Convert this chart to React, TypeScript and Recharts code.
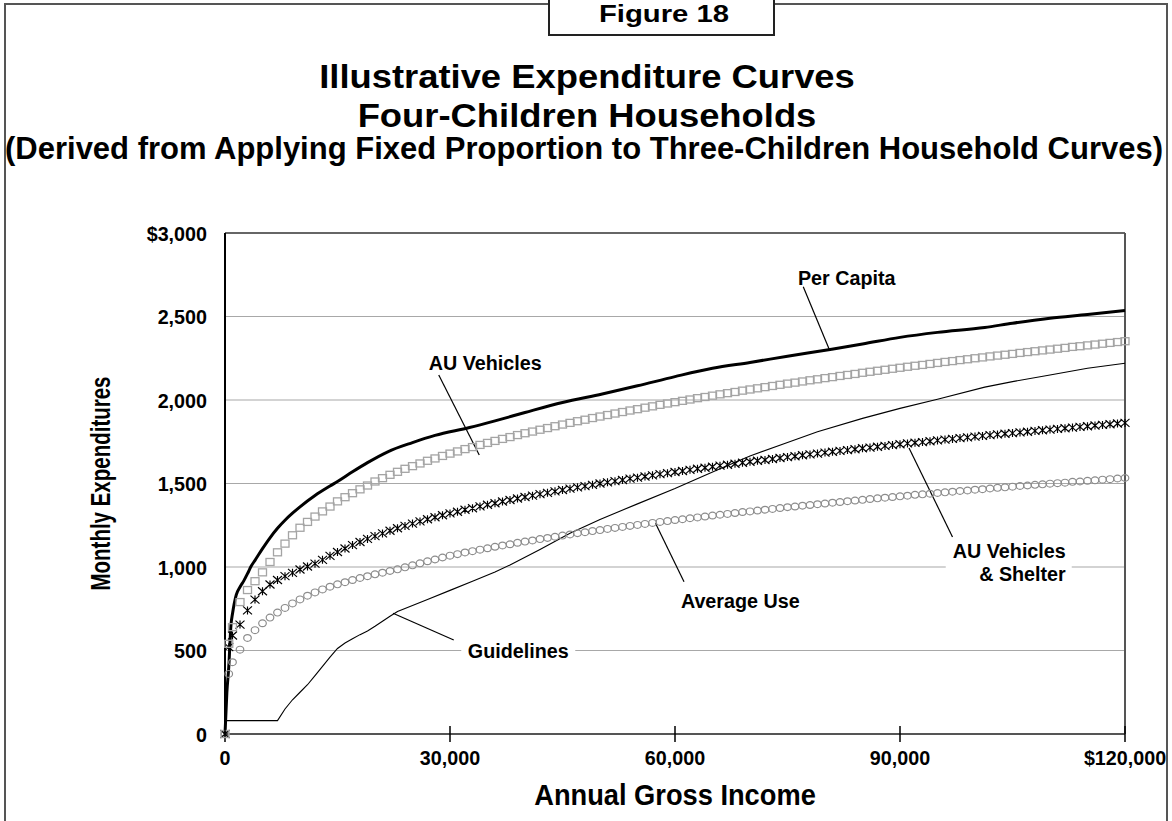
import React from "react";
import { CartesianGrid, Line, LineChart, ReferenceDot, ReferenceLine, XAxis, YAxis } from "recharts";

const FONT = '"Liberation Sans", Arial, Helvetica, sans-serif';
const NARROW = 0.94;

// annual gross income in $ thousands, shared by the three marker series
const markerIncome = [
  0, 0.5, 1, 2, 3, 4, 5, 6, 7, 8, 9, 10, 11, 12, 13, 14, 15, 16, 17, 18, 19, 20, 21, 22, 23, 24, 25, 26, 27, 28, 29, 30,
  31, 32, 33, 34, 35, 36, 37, 38, 39, 40, 41, 42, 43, 44, 45, 46, 47, 48, 49, 50,
  51, 52, 53, 54, 55, 56, 57, 58, 59, 60, 61, 62, 63, 64, 65, 66, 67, 68, 69, 70,
  71, 72, 73, 74, 75, 76, 77, 78, 79, 80, 81, 82, 83, 84, 85, 86, 87, 88, 89, 90,
  91, 92, 93, 94, 95, 96, 97, 98, 99, 100, 101, 102, 103, 104, 105, 106, 107, 108, 109, 110,
  111, 112, 113, 114, 115, 116, 117, 118, 119, 120,
];

const auVehicles = [
  0, 540, 640, 790, 862, 915, 968, 1030, 1088, 1140, 1190, 1235, 1270, 1302, 1333, 1362, 1393, 1418, 1442, 1465, 1488, 1512, 1532, 1552, 1570, 1588, 1604, 1620, 1636, 1650, 1665, 1679,
  1692, 1706, 1718, 1731, 1743, 1755, 1767, 1778, 1790, 1801,
  1811, 1822, 1832, 1843, 1853, 1863, 1873, 1882, 1892, 1901,
  1910, 1919, 1928, 1937, 1945, 1954, 1962, 1971, 1979, 1987,
  1995, 2003, 2011, 2018, 2026, 2034, 2041, 2048, 2056, 2063,
  2070, 2077, 2084, 2091, 2098, 2104, 2111, 2118, 2124, 2131,
  2137, 2144, 2150, 2156, 2163, 2169, 2175, 2181, 2187, 2193,
  2199, 2205, 2210, 2216, 2222, 2228, 2233, 2239, 2244, 2250,
  2255, 2261, 2266, 2271, 2276, 2282, 2287, 2292, 2297, 2302,
  2307, 2312, 2318, 2322, 2327, 2332, 2337, 2342, 2347, 2352,
];

const auVehiclesShelter = [
  0, 520, 590, 655, 740, 805, 855, 895, 922, 945, 965, 985, 1003, 1020, 1043, 1067, 1090, 1111, 1131, 1150, 1168, 1185, 1201, 1217, 1232, 1246, 1260, 1273, 1286, 1298, 1310, 1321,
  1331, 1343, 1352, 1363, 1373, 1382, 1392, 1401, 1410, 1419,
  1427, 1436, 1444, 1453, 1461, 1469, 1477, 1484, 1492, 1500,
  1507, 1514, 1521, 1529, 1535, 1542, 1549, 1556, 1562, 1569,
  1575, 1582, 1588, 1594, 1600, 1607, 1612, 1618, 1624, 1630,
  1636, 1641, 1647, 1653, 1658, 1663, 1669, 1674, 1679, 1685,
  1690, 1695, 1700, 1705, 1711, 1715, 1720, 1725, 1730, 1735,
  1740, 1744, 1748, 1753, 1758, 1763, 1767, 1772, 1776, 1781,
  1785, 1790, 1794, 1798, 1802, 1806, 1810, 1815, 1819, 1823,
  1827, 1831, 1835, 1839, 1843, 1847, 1851, 1855, 1859, 1863,
];

const averageUse = [
  0, 360, 430, 505, 575, 622, 663, 697, 727, 755, 782, 806, 828, 848, 866, 882, 896, 909, 922, 934, 945, 956, 966, 976, 986, 998, 1010, 1022, 1034, 1045, 1057, 1068,
  1077, 1087, 1095, 1104, 1112, 1121, 1129, 1136, 1145, 1152,
  1159, 1167, 1174, 1181, 1188, 1195, 1202, 1208, 1215, 1221,
  1228, 1234, 1240, 1246, 1252, 1258, 1264, 1270, 1275, 1281,
  1286, 1292, 1297, 1302, 1308, 1313, 1318, 1323, 1329, 1333,
  1338, 1343, 1348, 1353, 1358, 1362, 1367, 1371, 1376, 1380,
  1385, 1389, 1394, 1398, 1402, 1407, 1411, 1415, 1419, 1423,
  1427, 1432, 1435, 1439, 1443, 1447, 1451, 1455, 1458, 1463,
  1466, 1470, 1474, 1477, 1481, 1485, 1488, 1492, 1495, 1499,
  1502, 1505, 1510, 1512, 1516, 1519, 1523, 1526, 1530, 1533,
];

const perCapitaIncome = [0, 0.25, 0.5, 0.8, 1, 1.5, 2, 2.5, 3, 3.5, 4, 5, 6, 7, 8, 9, 10, 12, 14, 15, 17, 19, 21.7, 25, 28, 32.6, 36, 40, 45, 50.3, 55, 60, 65, 70, 75, 80.9, 85, 90, 95, 101.3, 105, 110, 115, 120];
const perCapita = [0, 250, 400, 655, 720, 833, 880, 917, 960, 1006, 1040, 1110, 1175, 1232, 1280, 1322, 1360, 1428, 1485, 1512, 1570, 1625, 1690, 1745, 1788, 1835, 1875, 1925, 1985, 2036, 2085, 2140, 2190, 2225, 2262, 2304, 2335, 2375, 2405, 2434, 2460, 2490, 2512, 2536];

const guidelinesIncome = [0, 7, 8, 9, 10, 11, 12, 13, 14, 15, 16, 17, 18, 19, 20, 21, 22, 23, 24, 25, 27, 30, 33, 36, 38, 42, 46, 50, 55, 60, 66, 70, 75, 79, 85, 90, 95, 101.3, 105, 110, 115, 120];
const guidelines = [80, 80, 150, 205, 250, 295, 350, 405, 460, 512, 545, 570, 595, 617, 645, 675, 705, 733, 752, 770, 805, 860, 915, 970, 1012, 1105, 1202, 1285, 1378, 1470, 1589, 1665, 1745, 1810, 1890, 1950, 2005, 2077, 2110, 2150, 2190, 2220];

const yTicks = [0, 500, 1000, 1500, 2000, 2500, 3000];
const xTicks = [0, 30, 60, 90, 120];

const toPoints = (xs: number[], ys: number[]) => xs.map((x, i) => ({ x, y: ys[i] }));

const fmtY = (v: number) => (v === 3000 ? "$3,000" : v.toLocaleString("en-US"));
const fmtX = (v: number) => (v === 120 ? "$120,000" : (v * 1000).toLocaleString("en-US"));

function NarrowText({ x, y, size, anchor = "middle", sx = NARROW, children }: any) {
  return (
    <g transform={`translate(${x},${y})`}>
      <text transform={`scale(${sx},1)`} textAnchor={anchor} fontSize={size} fontWeight={700} fontFamily={FONT} fill="#000">
        {children}
      </text>
    </g>
  );
}

function YTick({ x, y, payload }: any) {
  return (
    <NarrowText x={x} y={y + 7.5} size={21} anchor="end">
      {fmtY(payload.value)}
    </NarrowText>
  );
}

function XTick({ x, y, payload }: any) {
  const axisY = y - 15;
  return (
    <g>
      <line x1={x} x2={x} y1={axisY - 8} y2={axisY} stroke="#000" strokeWidth={1.5} />
      <NarrowText x={x} y={y + 16} size={21}>
        {fmtX(payload.value)}
      </NarrowText>
    </g>
  );
}

function SquareDot({ cx, cy, index }: any) {
  return <rect key={`sq-${index}`} x={cx - 4} y={cy - 3.5} width={8} height={7} fill="none" stroke="#a4a4a4" strokeWidth={1.3} />;
}

function CircleDot({ cx, cy, index }: any) {
  return <ellipse key={`ci-${index}`} cx={cx} cy={cy} rx={3.8} ry={3.4} fill="none" stroke="#8c8c8c" strokeWidth={1.2} />;
}

function StarDot({ cx, cy, index }: any) {
  const sx = 4.5;
  const sy = 4;
  return (
    <path
      key={`st-${index}`}
      d={`M${cx - sx},${cy - sy}L${cx + sx},${cy + sy}M${cx - sx},${cy + sy}L${cx + sx},${cy - sy}M${cx},${cy - sy}L${cx},${cy + sy}`}
      stroke="#000"
      strokeWidth={1.15}
      fill="none"
    />
  );
}

// text note placed at a data point; offsets in px, optional white box to break gridlines
function Note({ viewBox, lines, anchor = "middle", box }: any) {
  const cx = viewBox.x + viewBox.width / 2;
  const cy = viewBox.y + viewBox.height / 2;
  return (
    <g>
      {box && <rect x={cx + box[0]} y={cy + box[1]} width={box[2]} height={box[3]} fill="#fff" />}
      {lines.map((l: any, i: number) => (
        <NarrowText key={i} x={cx + (l.dx || 0)} y={cy + l.dy} size={21} anchor={anchor}>
          {l.text}
        </NarrowText>
      ))}
    </g>
  );
}

const hidden = { r: 1, fill: "none", stroke: "none" };

export default function App() {
  return (
    <div style={{ position: "absolute", left: 0, top: 0, width: 1172, height: 821, background: "#fff", fontFamily: FONT }}>
      <LineChart width={1172} height={821} margin={{ top: 233, right: 47, bottom: 47, left: 165 }}>
        <CartesianGrid vertical={false} stroke="#a8a8a8" strokeWidth={1.2} />
        <XAxis
          dataKey="x"
          type="number"
          domain={[0, 120]}
          ticks={xTicks}
          height={40}
          axisLine={{ stroke: "#555", strokeWidth: 2 }}
          tickLine={{ stroke: "#000", strokeWidth: 1.5 }}
          tickSize={8}
          tickMargin={7}
          tick={<XTick />}
          interval={0}
        />
        <YAxis
          type="number"
          domain={[0, 3000]}
          ticks={yTicks}
          width={60}
          axisLine={{ stroke: "#000", strokeWidth: 2 }}
          tickLine={false}
          tickSize={0}
          tickMargin={18}
          tick={<YTick />}
          interval={0}
        />
        <ReferenceLine y={3000} stroke="#666" strokeWidth={2} />
        <ReferenceLine x={120} stroke="#555" strokeWidth={2} />

        <Line data={toPoints(guidelinesIncome, guidelines)} dataKey="y" type="linear" stroke="#000" strokeWidth={1.1} dot={false} isAnimationActive={false} />
        <Line data={toPoints(markerIncome, averageUse)} dataKey="y" stroke="none" dot={<CircleDot />} isAnimationActive={false} />
        <Line data={toPoints(markerIncome, auVehiclesShelter)} dataKey="y" stroke="none" dot={<StarDot />} isAnimationActive={false} />
        <Line data={toPoints(markerIncome, auVehicles)} dataKey="y" stroke="none" dot={<SquareDot />} isAnimationActive={false} />
        <Line data={toPoints(perCapitaIncome, perCapita)} dataKey="y" type="monotone" stroke="#000" strokeWidth={3} dot={false} isAnimationActive={false} />

        <ReferenceLine segment={[{ x: 77.1, y: 2678 }, { x: 80.6, y: 2299 }]} stroke="#000" strokeWidth={1.2} />
        <ReferenceLine segment={[{ x: 28.5, y: 2150 }, { x: 33.9, y: 1671 }]} stroke="#000" strokeWidth={1.2} />
        <ReferenceLine segment={[{ x: 61.2, y: 912 }, { x: 57.4, y: 1262 }]} stroke="#000" strokeWidth={1.2} />
        <ReferenceLine segment={[{ x: 30.5, y: 563 }, { x: 22.4, y: 723 }]} stroke="#000" strokeWidth={1.2} />
        <ReferenceLine segment={[{ x: 91.2, y: 1713 }, { x: 97.0, y: 1180 }]} stroke="#000" strokeWidth={1.2} />

        <ReferenceDot x={82.9} y={2734} {...hidden} label={<Note lines={[{ text: "Per Capita", dy: 7.5 }]} />} />
        <ReferenceDot x={34.7} y={2225} {...hidden} label={<Note lines={[{ text: "AU Vehicles", dy: 7.5 }]} />} />
        <ReferenceDot x={68.7} y={802} {...hidden} label={<Note lines={[{ text: "Average Use", dy: 7.5 }]} />} />
        <ReferenceDot x={39.1} y={500} {...hidden} label={<Note lines={[{ text: "Guidelines", dy: 7.5 }]} box={[-57, -6, 114, 12]} />} />
        <ReferenceDot
          x={112.1}
          y={1000}
          {...hidden}
          label={
            <Note
              anchor="end"
              lines={[
                { text: "AU Vehicles", dy: -9.5 },
                { text: "& Shelter", dy: 13.5 },
              ]}
              box={[-120, -6, 126, 12]}
            />
          }
        />
      </LineChart>

      <svg width={1172} height={821} style={{ position: "absolute", left: 0, top: 0, pointerEvents: "none" }}>
        <path d="M5,821V4H549M774,4H1167V821" fill="none" stroke="#555" strokeWidth={2} />
        <rect x={549} y={-4} width={225} height={39} fill="#fff" stroke="#222" strokeWidth={2} />
        <NarrowText x={664} y={22} size={24} sx={1.22}>
          Figure 18
        </NarrowText>
        <NarrowText x={587} y={88} size={34} sx={1.07}>
          Illustrative Expenditure Curves
        </NarrowText>
        <NarrowText x={587} y={126.5} size={34} sx={1.07}>
          Four-Children Households
        </NarrowText>
        <NarrowText x={584} y={159} size={31} sx={1.0}>
          (Derived from Applying Fixed Proportion to Three-Children Household Curves)
        </NarrowText>
        <g transform="translate(110,483.5) rotate(-90) scale(0.82,1.14)">
          <text textAnchor="middle" fontSize={25} fontWeight={700} fontFamily={FONT} fill="#000">
            Monthly Expenditures
          </text>
        </g>
        <NarrowText x={675} y={805} size={29}>
          Annual Gross Income
        </NarrowText>
      </svg>
    </div>
  );
}
